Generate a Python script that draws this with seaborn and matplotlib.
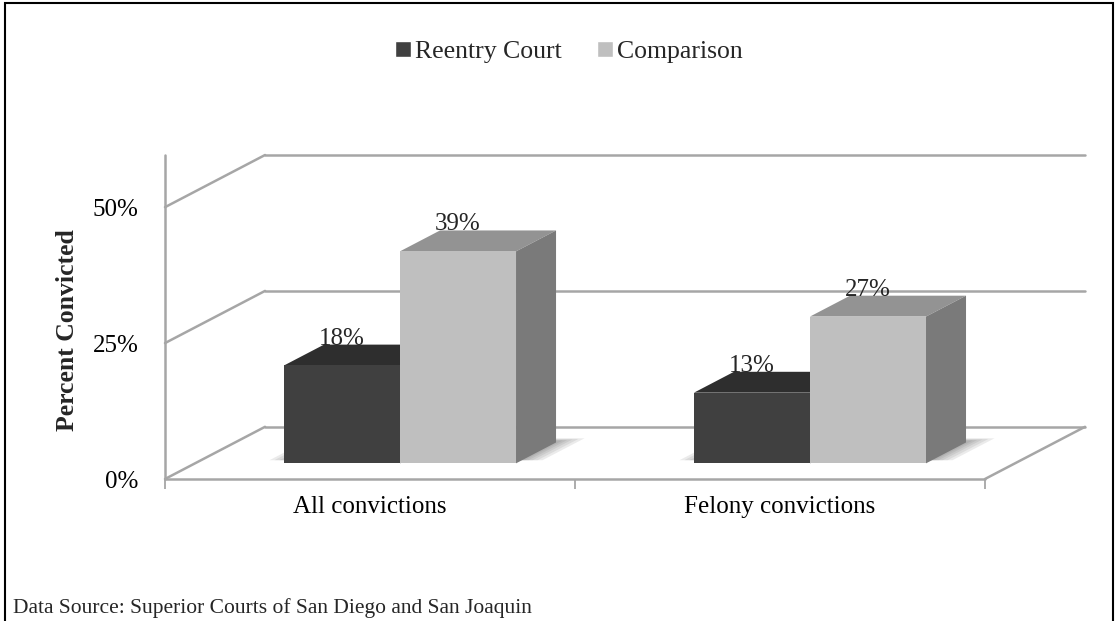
import numpy as np
import pandas as pd
import matplotlib
matplotlib.use("Agg")
import matplotlib.pyplot as plt
from matplotlib.patches import Polygon, Patch, Rectangle
import seaborn as sns

categories = ["All convictions", "Felony convictions"]
series = ["Reentry Court", "Comparison"]
reentry = [18, 13]
comparison = [39, 27]
y_ticks = [0, 25, 50]
y_tick_labels = ["0%", "25%", "50%"]
source_note = "Data Source: Superior Courts of San Diego and San Joaquin"

front_colors = {"Reentry Court": "#404040", "Comparison": "#bfbfbf"}
top_colors = {"Reentry Court": "#2e2e2e", "Comparison": "#939393"}
side_colors = {"Reentry Court": "#262626", "Comparison": "#7a7a7a"}
GRID = "#a6a6a6"

# fake 3D: one unit of depth shifts this much in x (category units) and y (%)
DX, DY = 0.244, 9.6
D0, D1 = 0.3, 0.7  # bar depth range

df = pd.DataFrame({
    "category": categories * 2,
    "series": [series[0]] * len(categories) + [series[1]] * len(categories),
    "value": reentry + comparison,
})

sns.set_theme(style="white")
plt.rcParams["font.family"] = ["Liberation Serif", "DejaVu Serif"]

fig = plt.figure(figsize=(11.16, 6.21), dpi=100)
ax = fig.add_axes([165 / 1116, 142 / 621, 920 / 1116, 324 / 621])
ax.set_facecolor("none")

sns.barplot(data=df, x="category", y="value", hue="series", hue_order=series,
            palette=front_colors, width=0.566, saturation=1, linewidth=0,
            legend=False, ax=ax)

n = len(categories)
x_lo, x_hi = -0.5, n - 0.5
top_val = max(y_ticks)

# walls and floor
for v in y_ticks:
    ax.plot([x_lo + DX, x_hi + DX], [v + DY, v + DY], color=GRID, lw=1.8, zorder=1, clip_on=False)
    ax.plot([x_lo, x_lo + DX], [v, v + DY], color=GRID, lw=1.8, zorder=1, clip_on=False)
ax.plot([x_lo, x_lo], [0, top_val + DY], color=GRID, lw=1.8, zorder=1, clip_on=False)
ax.plot([x_lo, x_hi], [0, 0], color=GRID, lw=1.8, zorder=1, clip_on=False)
ax.plot([x_hi, x_hi + DX], [0, DY], color=GRID, lw=1.8, zorder=1, clip_on=False)

labels = [s for s in series for _ in categories]
vals = reentry + comparison
groups = {}
for p, s, v in zip(ax.patches, labels, vals):
    fx = p.get_x()  # footprint x before depth shift
    w = p.get_width()
    h = p.get_height()
    x0 = fx + D0 * DX
    base = D0 * DY
    p.set_x(x0)
    p.set_y(base)
    z = 3 if s == series[0] else 4
    p.set_zorder(z + 0.5)
    ddx, ddy = (D1 - D0) * DX, (D1 - D0) * DY
    top = [(x0, base + h), (x0 + w, base + h), (x0 + w + ddx, base + h + ddy), (x0 + ddx, base + h + ddy)]
    side = [(x0 + w, base), (x0 + w + ddx, base + ddy), (x0 + w + ddx, base + h + ddy), (x0 + w, base + h)]
    ax.add_patch(Polygon(top, closed=True, facecolor=top_colors[s], edgecolor="none", zorder=z))
    ax.add_patch(Polygon(side, closed=True, facecolor=side_colors[s], edgecolor="none", zorder=z))
    ax.text(x0 + w / 2, base + h + ddy + 1.1, f"{v}%", ha="center", va="center",
            fontsize=18, zorder=6)
    c = round(fx + w)
    lo, hi = groups.get(c, (np.inf, -np.inf))
    groups[c] = (min(lo, fx), max(hi, fx + w))

# soft shadow on the floor under each bar group (footprint, blurred by layering)
for lo, hi in groups.values():
    for e in [0.05, 0.038, 0.026, 0.016, 0.007]:
        da, db = D0 + 0.06, D1 + 0.03 + e
        shadow = [(lo - e + da * DX, da * DY), (hi + e + da * DX, da * DY),
                  (hi + e + db * DX, db * DY), (lo - e + db * DX, db * DY)]
        ax.add_patch(Polygon(shadow, closed=True, facecolor="#606060", alpha=0.12,
                             edgecolor="none", zorder=2))

ax.set_xlim(x_lo, x_hi + DX)
ax.set_ylim(0, top_val + DY)
ax.set_yticks(y_ticks, y_tick_labels)
ax.set_xticks(np.arange(x_lo, x_hi + 0.01), minor=True)
ax.tick_params(axis="y", length=0, pad=19, labelsize=18, labelcolor="black")
ax.tick_params(axis="x", which="major", length=0, pad=12, labelsize=18, labelcolor="black")
ax.tick_params(axis="x", which="minor", bottom=True, length=7, width=1.3, color=GRID, direction="out")
ax.set_xlabel("")
ax.set_ylabel("")
ax.grid(False)
for sp in ax.spines.values():
    sp.set_visible(False)

fig.text(67 / 1116, 1 - 330 / 621, "Percent Convicted", rotation=90, ha="center", va="center",
         fontsize=18.5, fontweight="bold")

handles = [Patch(facecolor=front_colors[s], label=s) for s in series]
fig.legend(handles=handles, loc="center", bbox_to_anchor=(569 / 1116, 1 - 52 / 621), ncol=2,
           frameon=False, fontsize=18.5, handlelength=0.6, handleheight=0.6,
           handletextpad=0.15, columnspacing=1.4)

fig.text(13 / 1116, 1 - 608 / 621, source_note, fontsize=15.5, ha="left", va="center")

fig.add_artist(Rectangle((5 / 1116, -0.05), 1108 / 1116, 1.05 - 3 / 621, transform=fig.transFigure,
                         fill=False, edgecolor="black", lw=1.5))

fig.savefig("out.png", dpi=100)
